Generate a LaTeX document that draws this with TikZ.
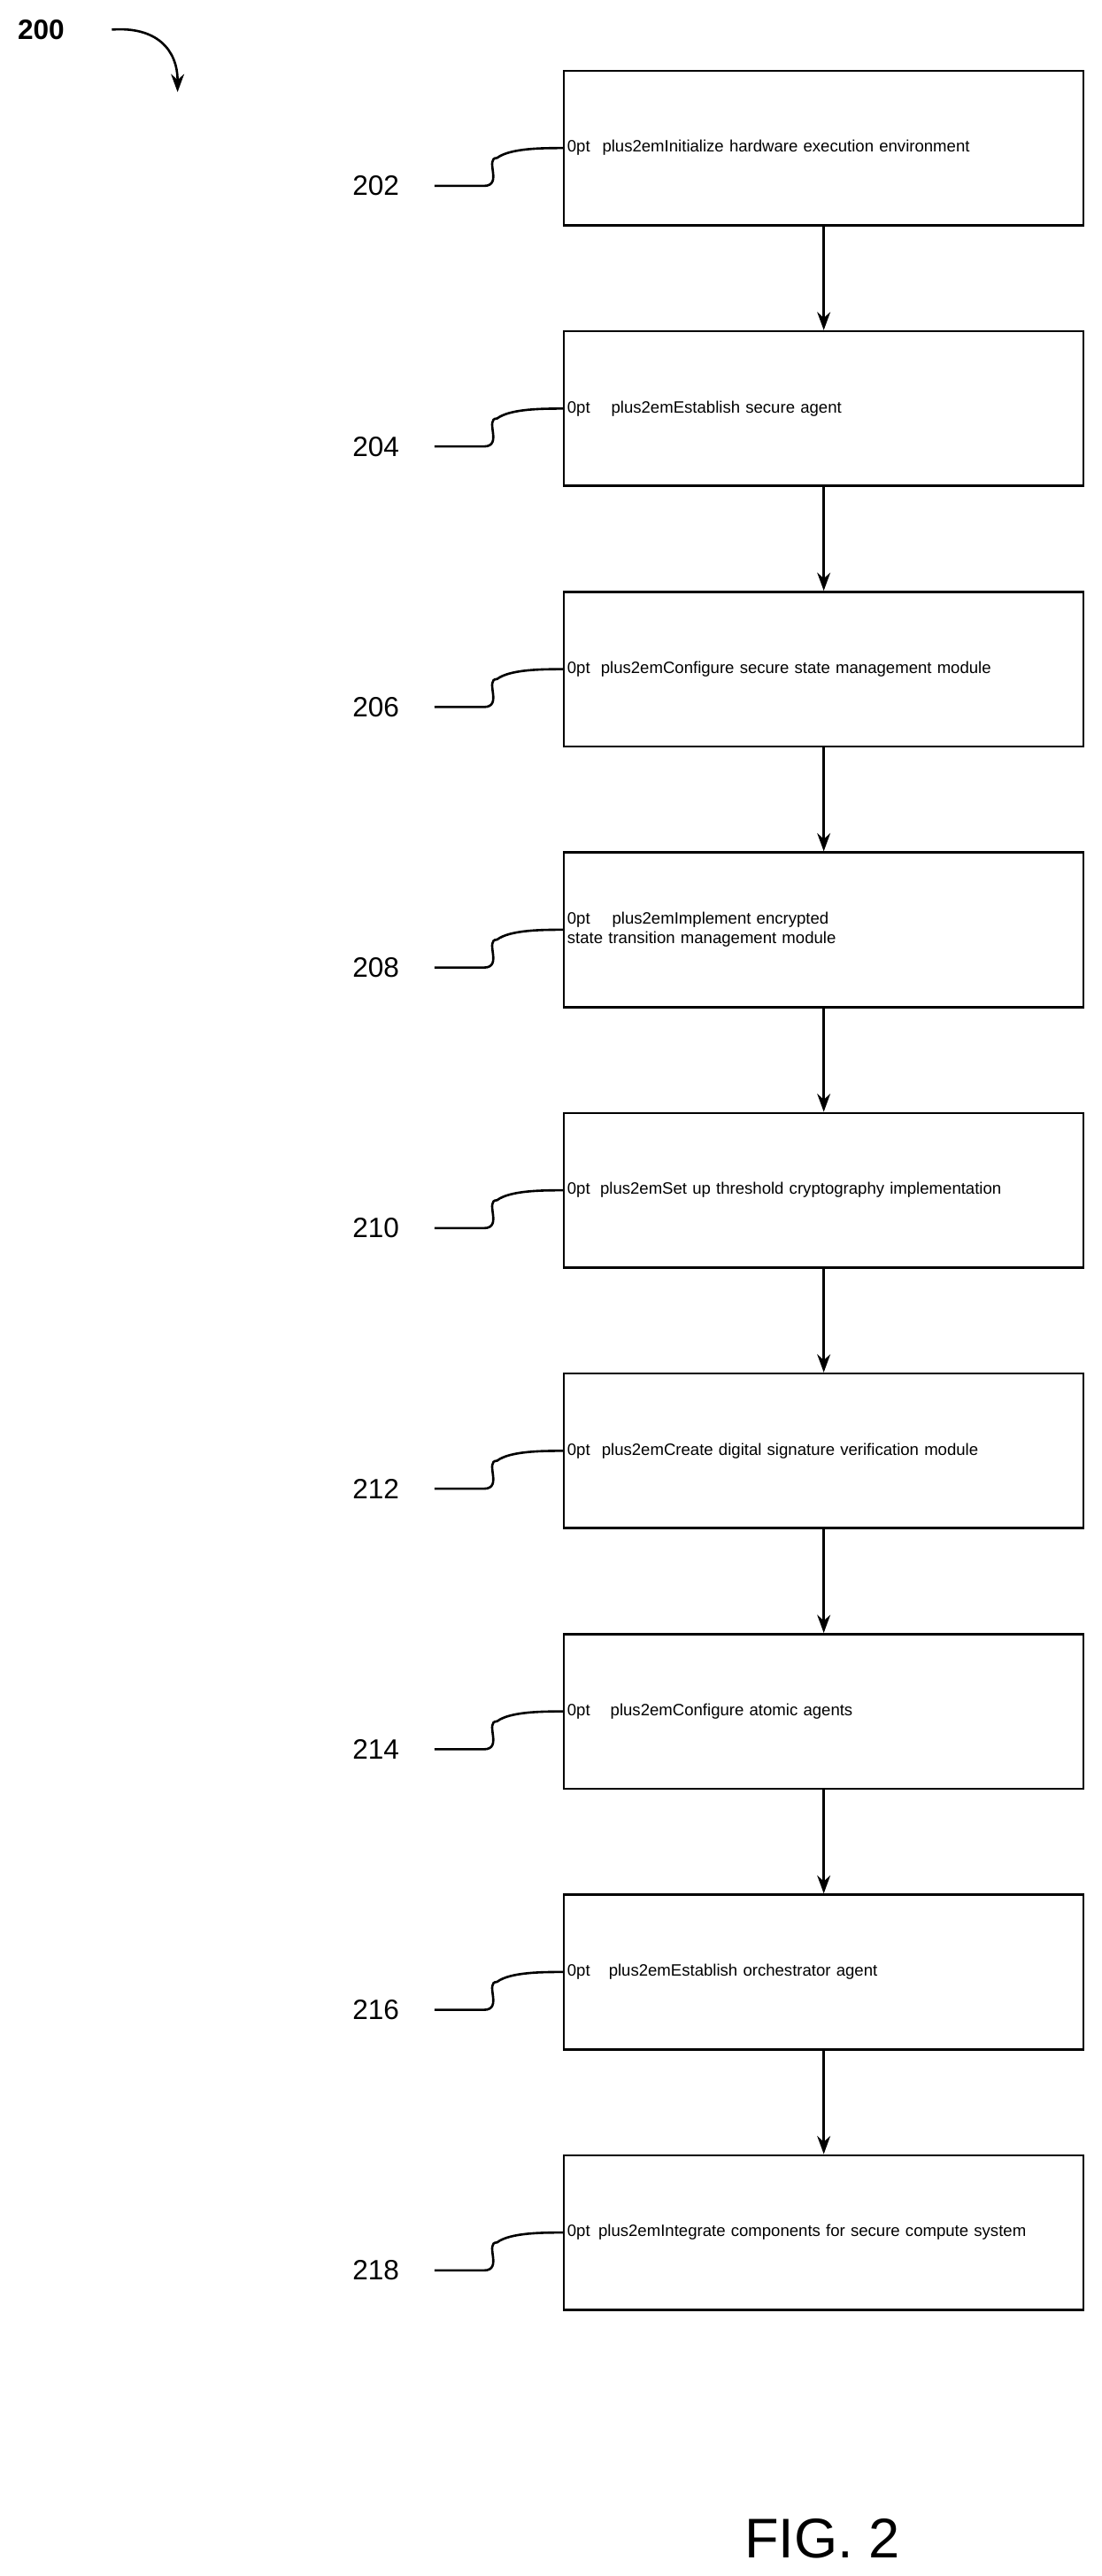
\documentclass[tikz,border=0pt]{standalone}
\usepackage{fontspec}
\setmainfont{Liberation Sans}
\usetikzlibrary{positioning,arrows.meta}
\tikzset{
  stepbox/.style={draw,line width=1.4pt,minimum width=316pt,minimum height=94pt,text width=312pt,inner xsep=2pt,align=center,font=\hyphenpenalty=10000\fontsize{17}{24}\selectfont},
  ref/.style={font=\fontsize{17}{20}\selectfont},
  flow/.style={-{Stealth[length=11pt,width=8pt]},line width=1.4pt}
}
\begin{document}
\begin{tikzpicture}[x=1pt,y=-1pt]
\useasboundingbox (0,0) rectangle (670,1566);
\node[stepbox] (s202) at (501,90) {Initialize hardware execution environment};
\node[stepbox,below=63pt of s202] (s204) {Establish secure agent};
\node[stepbox,below=63pt of s204] (s206) {Configure secure state management module};
\node[stepbox,below=63pt of s206] (s208) {Implement encrypted state transition management module};
\node[stepbox,below=63pt of s208] (s210) {Set up threshold cryptography implementation};
\node[stepbox,below=63pt of s210] (s212) {Create digital signature verification module};
\node[stepbox,below=63pt of s212] (s214) {Configure atomic agents};
\node[stepbox,below=63pt of s214] (s216) {Establish orchestrator agent};
\node[stepbox,below=63pt of s216] (s218) {Integrate components for secure compute system};
% arrows between steps
\foreach \a/\b in {202/204,204/206,206/208,208/210,210/212,212/214,214/216,216/218}
  \draw[flow] (s\a) -- (s\b);
% reference numerals
\foreach \n in {202,204,206,208,210,212,214,216,218}{
  \node[ref,anchor=east] (l\n) at ([xshift=-96pt,yshift=-23pt]s\n.west) {\n};
  \draw[line width=1.4pt] ([xshift=-78pt,yshift=-23pt]s\n.west) -- ++(30,0) .. controls ++(12,0) and ++(-8,0) .. ++(8,-17)
    .. controls ++(8,-6) and ++(-12,0) .. (s\n.west);
}
\node[font=\bfseries\fontsize{17}{20}\selectfont] (fig) at (25,18) {200};
\coordinate (tip) at (108,56);
\draw[flow] (68,18) .. controls (95,16) and (108,30) .. (tip);
\node[font=\fontsize{34}{40}\selectfont] (cap) at (500,1543) {FIG. 2};
\end{tikzpicture}
\end{document}
